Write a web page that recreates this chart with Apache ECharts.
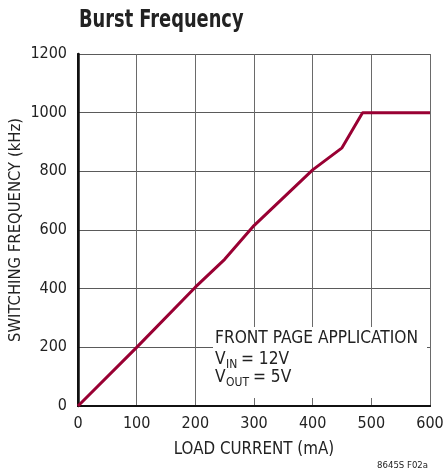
<!DOCTYPE html>
<html>
<head>
<meta charset="utf-8">
<script src="https://cdn.jsdelivr.net/npm/echarts@6/dist/echarts.min.js"></script>
<style>
  html, body { margin: 0; padding: 0; background: #fff; }
  #chart { width: 444px; height: 473px; }
</style>
</head>
<body>
<div id="chart"></div>
<script>
// Switching frequency versus load current (burst mode operation)
const loadCurrent = [0, 100, 200, 250, 300, 400, 450, 485, 600];      // mA
const switchingFreq = [0, 200, 405, 500, 615, 805, 880, 1000, 1000]; // kHz
const xTicks = [0, 100, 200, 300, 400, 500, 600];
const yTicks = [0, 200, 400, 600, 800, 1000, 1200];

const FONT = '"DejaVu Sans Condensed", "Liberation Sans Narrow", "Liberation Sans", sans-serif';
const TEXT = '#222';

const seriesData = loadCurrent.map((x, i) => [x, switchingFreq[i]]);
const plain = v => String(v);

const chart = echarts.init(document.getElementById('chart'), null, { renderer: 'canvas' });

chart.setOption({
  animation: false,
  backgroundColor: '#fff',
  grid: { left: 78, right: 14, top: 54, bottom: 67, containLabel: false, outerBoundsMode: 'none' },
  xAxis: [{
    type: 'value',
    min: xTicks[0],
    max: xTicks[xTicks.length - 1],
    interval: xTicks[1] - xTicks[0],
    name: 'LOAD CURRENT (mA)',
    nameLocation: 'middle',
    nameGap: 35,
    nameMoveOverlap: false,
    nameTextStyle: { fontFamily: FONT, fontSize: 16.8, color: TEXT },
    axisLine: { show: true, lineStyle: { color: '#111', width: 2 } },
    axisTick: { show: false },
    axisLabel: { margin: 10, fontFamily: FONT, fontSize: 16, color: TEXT, formatter: plain },
    splitLine: { show: true, lineStyle: { color: '#6a6a6a', width: 1 } }
  }, {
    type: 'value',
    position: 'top',
    min: xTicks[0],
    max: xTicks[xTicks.length - 1],
    axisLine: { show: true, lineStyle: { color: '#111', width: 2 } },
    axisTick: { show: false },
    axisLabel: { show: false },
    splitLine: { show: false }
  }],
  yAxis: [{
    type: 'value',
    min: yTicks[0],
    max: yTicks[yTicks.length - 1],
    interval: yTicks[1] - yTicks[0],
    name: 'SWITCHING FREQUENCY (kHz)',
    nameLocation: 'middle',
    nameGap: 54,
    nameMoveOverlap: false,
    nameTextStyle: { fontFamily: FONT, fontSize: 16.5, color: TEXT },
    axisLine: { show: true, lineStyle: { color: '#111', width: 2 } },
    axisTick: { show: false },
    axisLabel: { margin: 11, fontFamily: FONT, fontSize: 16, color: TEXT, formatter: plain },
    splitLine: { show: true, lineStyle: { color: '#5a5a5a', width: 1 } }
  }, {
    type: 'value',
    position: 'right',
    min: yTicks[0],
    max: yTicks[yTicks.length - 1],
    axisLine: { show: true, lineStyle: { color: '#111', width: 2.5 } },
    axisTick: { show: false },
    axisLabel: { show: false },
    splitLine: { show: false }
  }],
  series: [{
    type: 'line',
    data: seriesData,
    symbol: 'none',
    lineStyle: { color: '#990033', width: 3 },
    z: 3
  }],
  graphic: [
    {
      // chart title, condensed horizontally
      type: 'text', x: 79, y: 21, scaleX: 0.825, z: 11,
      style: { text: 'Burst Frequency', fontFamily: FONT, fontSize: 24, fontWeight: 'bold', fill: '#222', verticalAlign: 'middle' }
    },
    {
      // annotation panel
      type: 'rect',
      shape: { x: 213, y: 327, width: 214, height: 71 },
      style: { fill: '#fff' },
      z: 10
    },
    {
      type: 'text', x: 215, y: 339, z: 11,
      style: { text: 'FRONT PAGE APPLICATION', fontFamily: FONT, fontSize: 17.2, fill: TEXT, verticalAlign: 'middle' }
    },
    {
      type: 'text', x: 215, y: 360, z: 11,
      style: { text: 'V', fontFamily: FONT, fontSize: 17.2, fill: TEXT, verticalAlign: 'middle' }
    },
    {
      type: 'text', x: 226, y: 365, z: 11,
      style: { text: 'IN', fontFamily: FONT, fontSize: 12, fill: TEXT, verticalAlign: 'middle' }
    },
    {
      type: 'text', x: 241, y: 360, z: 11,
      style: { text: '= 12V', fontFamily: FONT, fontSize: 17.2, fill: TEXT, verticalAlign: 'middle' }
    },
    {
      type: 'text', x: 215, y: 378, z: 11,
      style: { text: 'V', fontFamily: FONT, fontSize: 17.2, fill: TEXT, verticalAlign: 'middle' }
    },
    {
      type: 'text', x: 226, y: 383, z: 11,
      style: { text: 'OUT', fontFamily: FONT, fontSize: 12, fill: TEXT, verticalAlign: 'middle' }
    },
    {
      type: 'text', x: 253, y: 378, z: 11,
      style: { text: '= 5V', fontFamily: FONT, fontSize: 17.2, fill: TEXT, verticalAlign: 'middle' }
    },
    {
      type: 'text', x: 428, y: 466, z: 11,
      style: { text: '8645S F02a', fontFamily: FONT, fontSize: 9.5, fill: TEXT, align: 'right', verticalAlign: 'middle' }
    }
  ]
});
</script>
</body>
</html>
